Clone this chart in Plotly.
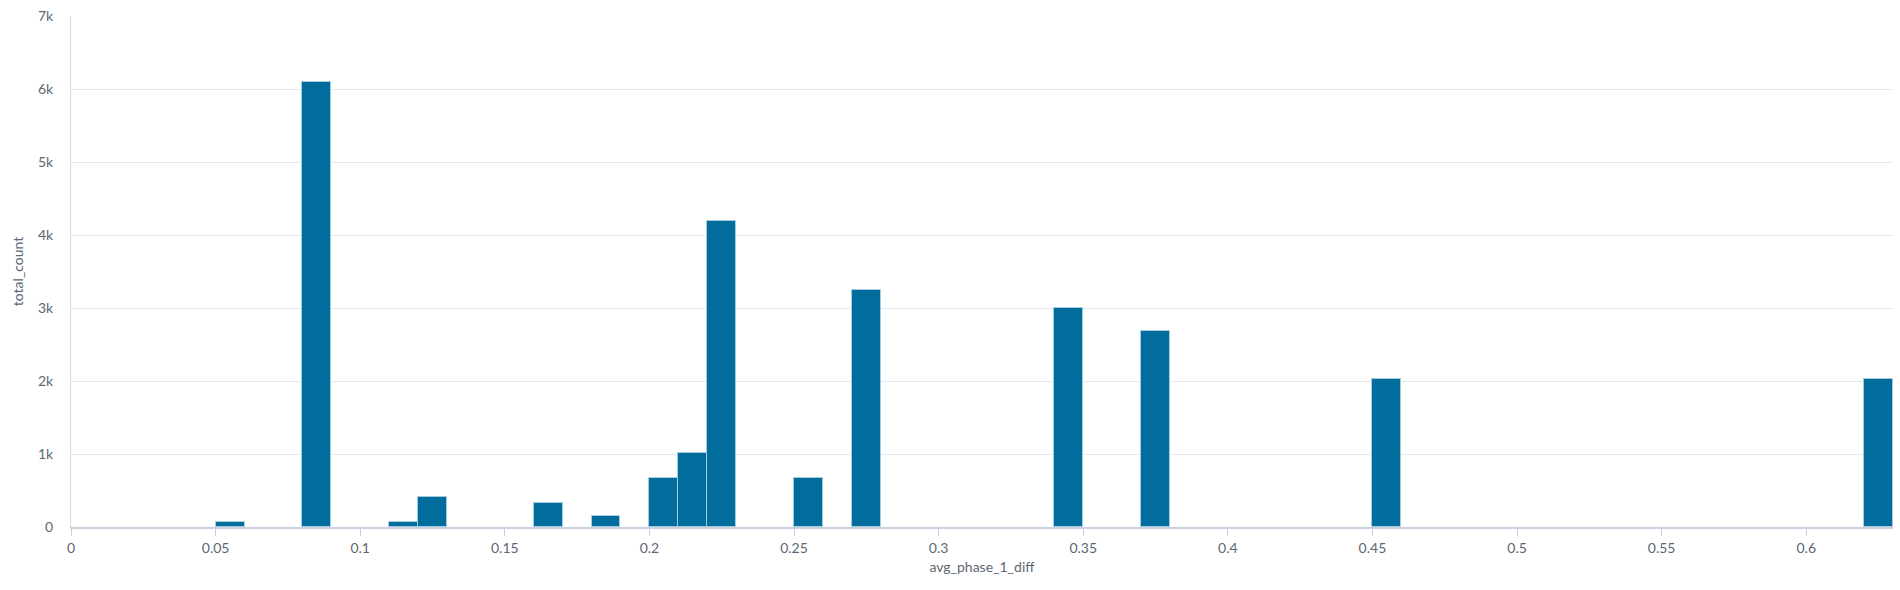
import plotly.graph_objects as go

bin_start = [0.05, 0.08, 0.11, 0.12, 0.16, 0.18, 0.20, 0.21, 0.22, 0.25, 0.27, 0.34, 0.37, 0.45, 0.62]
total_count = [70, 6100, 70, 410, 330, 155, 670, 1010, 4190, 670, 3240, 3005, 2680, 2030, 2030]
bin_width = 0.01

FONT = "Lato, 'Open Sans', sans-serif"
TXT = "#5c6773"

fig = go.Figure(go.Bar(
    x=bin_start,
    y=total_count,
    width=[bin_width] * len(bin_start),
    offset=0,
    marker=dict(color="#006d9c", line=dict(color="#a9cbe0", width=1)),
))

fig.update_layout(
    width=1900, height=590,
    margin=dict(l=71, r=7, t=12, b=63),
    paper_bgcolor="white", plot_bgcolor="white",
    font=dict(family=FONT, size=14, color=TXT),
    showlegend=False,
    bargap=0,
)
fig.update_xaxes(
    range=[0, 0.63], dtick=0.05, tick0=0,
    showgrid=False, zeroline=False,
    showline=True, linecolor="#c8d2de", linewidth=2,
    ticks="outside", ticklen=7, tickcolor="#c8d2de", tickwidth=1,
    tickfont=dict(size=14, color=TXT),
    title=dict(text="avg_phase_1_diff", font=dict(size=14, color=TXT), standoff=7),
)
fig.update_yaxes(
    range=[0, 7000], dtick=1000, tickformat="~s",
    showgrid=True, gridcolor="#e6e8eb", gridwidth=1,
    zeroline=False,
    showline=True, linecolor="#c8dbe6", linewidth=1,
    ticks="", ticklabelstandoff=14,
    tickfont=dict(size=14, color=TXT),
    title=dict(text="total_count", font=dict(size=14, color=TXT), standoff=11),
)

fig.write_html("out.html")
